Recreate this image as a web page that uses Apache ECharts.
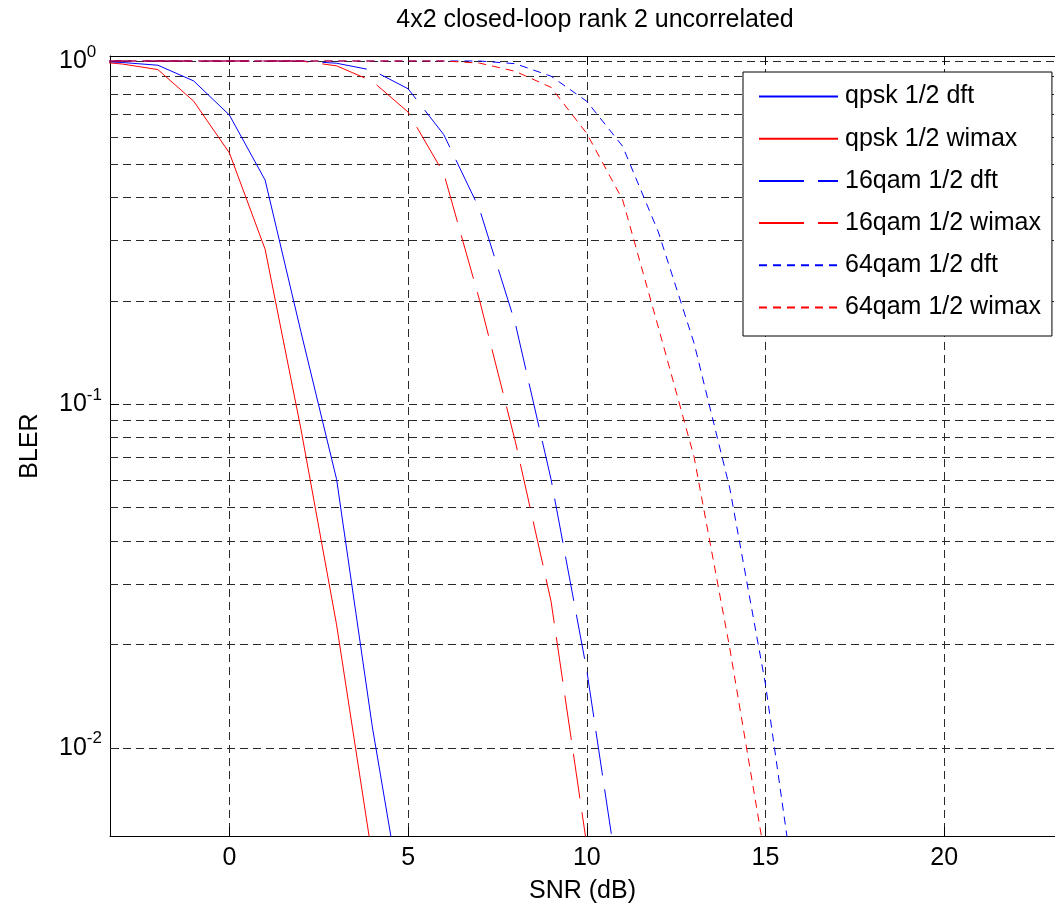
<!DOCTYPE html>
<html><head><meta charset="utf-8">
<script src="https://cdn.jsdelivr.net/npm/echarts@6/dist/echarts.min.js"></script>
<style>html,body{margin:0;padding:0;background:#fff}#c{width:1055px;height:914px}</style>
</head><body><div id="c"></div>
<script>
// SNR (dB) sample points
const snr = [-4,-3,-2,-1,0,1,2,3,4,5,6,7,8,9,10,11,12,13,14,15,16];
// BLER values (null = no data)
const qpskDft    = [1.0,0.99,0.972,0.875,0.696,0.45,0.163,0.0605,0.0115,0.0028,null,null,null,null,null,null,null,null,null,null,null];
const qpskWimax  = [1.0,0.98,0.944,0.764,0.54,0.283,0.085,0.0228,0.0048,null,null,null,null,null,null,null,null,null,null,null,null];
const qam16Dft   = [1,1,1,1,1,1,1,0.985,0.94,0.83,0.61,0.37,0.172,0.0605,0.0168,0.0034,null,null,null,null,null];
const qam16Wimax = [1,1,1,1,1,1,1,0.968,0.873,0.71,0.47,0.201,0.078,0.0267,0.0052,null,null,null,null,null,null];
const qam64Dft   = [1,1,1,1,1,1,1,1,1,1,1,1,0.982,0.903,0.763,0.565,0.318,0.151,0.057,0.0153,0.0028];
const qam64Wimax = [1,1,1,1,1,1,1,1,1,1,1,0.986,0.933,0.838,0.615,0.395,0.168,0.0704,0.0195,0.0047,null];
// minor log grid lines
const minorGrid = [0.9,0.8,0.7,0.6,0.5,0.4,0.3,0.2,0.09,0.08,0.07,0.06,0.05,0.04,0.03,0.02,0.009,0.008,0.007,0.006];
const seriesNames = ['qpsk 1/2 dft','qpsk 1/2 wimax','16qam 1/2 dft','16qam 1/2 wimax','64qam 1/2 dft','64qam 1/2 wimax'];
const titleText = '4x2 closed-loop rank 2 uncorrelated';
const xName = 'SNR (dB)';
const yName = 'BLER';

const FONT = 'Liberation Sans, Arial, Helvetica, sans-serif';
const BLUE = '#0000ff', RED = '#ff0000';
const gridDash = [8,5];
const gridColor = '#2a2a2a';

function pairs(vals){ return snr.map((x,i)=>[x, vals[i]]); }

const styles = [
  {color: BLUE, type: 'solid'},
  {color: RED, type: 'solid'},
  {color: BLUE, type: [45,14]},
  {color: RED, type: [45,14]},
  {color: BLUE, type: [8,6]},
  {color: RED, type: [8,6]}
];
const dataSets = [qpskDft, qpskWimax, qam16Dft, qam16Wimax, qam64Dft, qam64Wimax];

const series = [{
  name: '_grid', type: 'line', data: [], silent: true, z: 1,
  markLine: {
    silent: true, symbol: 'none', animation: false, z: 1,
    label: {show: false},
    lineStyle: {type: gridDash, color: gridColor, width: 1},
    emphasis: {disabled: true},
    data: minorGrid.map(v => ({yAxis: v}))
  }
}];
dataSets.forEach((d, i) => {
  series.push({
    name: seriesNames[i], type: 'line', data: pairs(d),
    symbol: 'none', showSymbol: false, z: 3,
    lineStyle: {color: styles[i].color, type: styles[i].type, width: 1},
    itemStyle: {color: styles[i].color},
    emphasis: {disabled: true},
    clip: true
  });
});

const xMin = -3.34, xMax = 23.1;
const yMin = 0.005534, yMax = 1.034;

const chart = echarts.init(document.getElementById('c'), null, {renderer: 'canvas'});
chart.setOption({
  animation: false,
  backgroundColor: '#fff',
  textStyle: {fontFamily: FONT},
  title: {
    text: titleText, left: 590, top: 3, textAlign: 'center',
    textStyle: {fontFamily: FONT, fontSize: 25, fontWeight: 'normal', color: '#000'}
  },
  grid: {left: 110, top: 56, right: -9.5, height: 780, containLabel: false},
  legend: {
    data: seriesNames, orient: 'vertical', left: 743, top: 72,
    padding: [12, 11, 16, 15], itemGap: 17.2, itemWidth: 79, itemHeight: 14,
    backgroundColor: '#fff', borderColor: '#000', borderWidth: 1,
    selectedMode: false, z: 10,
    itemStyle: {opacity: 0},
    textStyle: {fontFamily: FONT, fontSize: 25, color: '#000', lineHeight: 25, padding: [0,0,0,2]}
  },
  xAxis: [{
    type: 'value', min: xMin, max: xMax, splitNumber: 5, position: 'bottom',
    name: xName, nameLocation: 'middle', nameGap: 43,
    nameTextStyle: {fontFamily: FONT, fontSize: 25, color: '#000'},
    axisLine: {show: true, onZero: false, lineStyle: {color: '#000', width: 1}},
    axisTick: {show: true, inside: true, length: 9, lineStyle: {color: '#000'}},
    axisLabel: {
      show: true, margin: 10, fontFamily: FONT, fontSize: 25, color: '#000',
      showMinLabel: false, showMaxLabel: false,
      formatter: v => (Math.abs(v % 5) < 1e-9 ? String(v) : '')
    },
    splitLine: {show: true, lineStyle: {type: gridDash, color: gridColor, width: 1}}
  }, {
    type: 'value', min: xMin, max: xMax, splitNumber: 5, position: 'top',
    axisLine: {show: true, onZero: false, lineStyle: {color: '#000', width: 1}},
    axisTick: {show: true, inside: true, length: 9, lineStyle: {color: '#000'}},
    axisLabel: {show: false}, splitLine: {show: false}
  }],
  yAxis: {
    type: 'log', logBase: 10, min: yMin, max: yMax,
    name: yName, nameLocation: 'middle', nameGap: 67, nameRotate: 90,
    nameTextStyle: {fontFamily: FONT, fontSize: 25, color: '#000'},
    axisLine: {show: true, onZero: false, lineStyle: {color: '#000', width: 1}},
    axisTick: {show: true, inside: true, length: 9, lineStyle: {color: '#000'}},
    axisLabel: {
      show: true, align: 'left', margin: 51, showMinLabel: false, showMaxLabel: false,
      formatter: function (v) {
        const l = Math.log10(v), e = Math.round(l);
        if (Math.abs(l - e) > 1e-6) return '';
        return '{b|10}{s|' + e + '}';
      },
      rich: {
        b: {fontFamily: FONT, fontSize: 25, color: '#000', verticalAlign: 'bottom', lineHeight: 25},
        s: {fontFamily: FONT, fontSize: 17, color: '#000', verticalAlign: 'bottom', lineHeight: 17, padding: [0,0,13,0]}
      }
    },
    splitLine: {show: true, lineStyle: {type: gridDash, color: gridColor, width: 1}}
  },
  series: series
});
</script>
</body></html>
